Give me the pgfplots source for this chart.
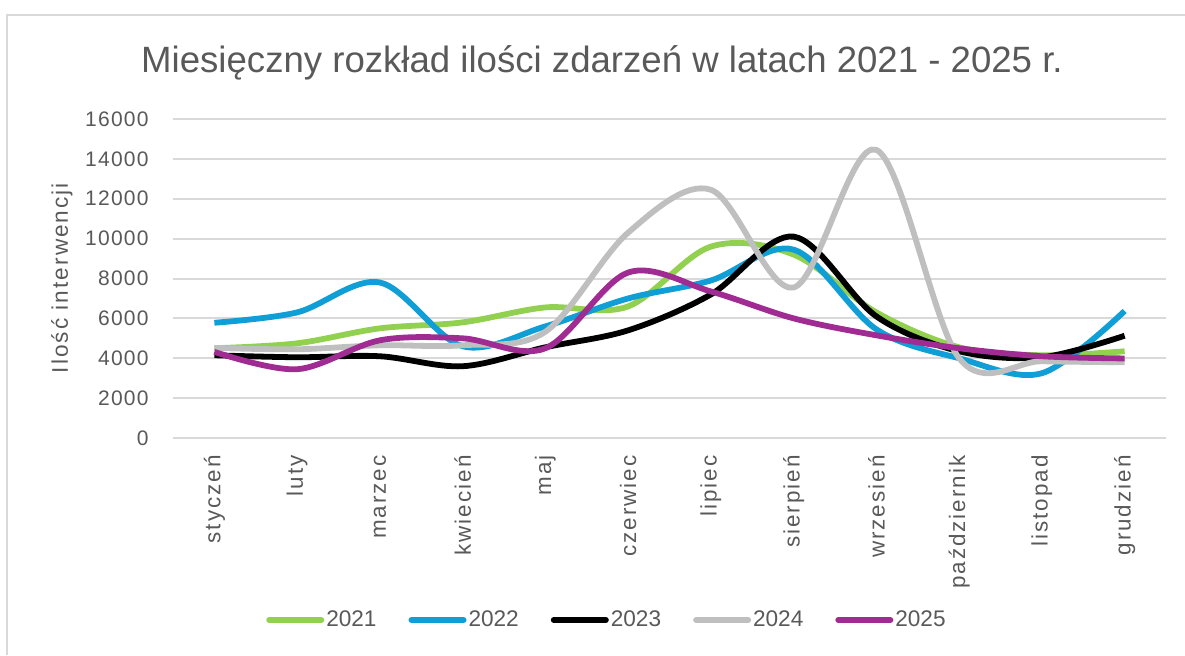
\documentclass[border=0pt]{standalone}
\usepackage{fontspec}
\setmainfont{Liberation Sans}
\newfontfamily\widefont[LetterSpace=6]{Liberation Sans}
\newfontfamily\widerfont[LetterSpace=9]{Liberation Sans}
\usepackage{pgfplots}
\pgfplotsset{compat=1.18}
\definecolor{c21}{HTML}{92D050}
\definecolor{c22}{HTML}{0F9ED5}
\definecolor{c23}{HTML}{000000}
\definecolor{c24}{HTML}{BFBFBF}
\definecolor{c25}{HTML}{A02B93}
\definecolor{txt}{HTML}{595959}
\definecolor{gridc}{HTML}{D9D9D9}
\begin{document}
\begin{tikzpicture}[x=1bp,y=1bp]
\useasboundingbox (0,0) rectangle (592.5,327.5);
\draw[gridc, line width=1bp] (3.5,0) -- (3.5,320) -- (592.5,320);
\node[anchor=base, text=txt, font=\fontsize{18.3bp}{22bp}\selectfont] at (301,291.5) {Miesięczny rozkład ilości zdarzeń w latach 2021 - 2025 r.};
\node[rotate=90, text=txt, font=\widerfont\fontsize{11.3bp}{13bp}\selectfont] at (31,188.5) {Ilość interwencji};
\begin{axis}[
  at={(86.5bp,108.5bp)}, anchor=south west,
  scale only axis, width=496.5bp, height=159.5bp,
  xmin=-0.5, xmax=11.5, ymin=0, ymax=16000,
  scaled y ticks=false,
  axis line style={draw=none},
  major tick style={draw=none},
  ymajorgrids, grid style={gridc, line width=1bp},
  ytick={0,2000,4000,6000,8000,10000,12000,14000,16000},
  yticklabels={0,2000,4000,6000,8000,10000,12000,14000,16000},
  xtick={0,1,2,3,4,5,6,7,8,9,10,11},
  xticklabels={styczeń,luty,marzec,kwiecień,maj,czerwiec,lipiec,sierpień,wrzesień,październik,listopad,grudzień},
  yticklabel style={anchor=east, inner sep=0pt, xshift=-12bp, text=txt, font=\widefont\fontsize{10.5bp}{12bp}\selectfont},
  xticklabel style={yshift=-8.5bp, anchor=east, rotate=90, inner sep=0pt, text=txt, font=\widerfont\fontsize{11.2bp}{13bp}\selectfont},
  clip=false,
  legend columns=5,
  legend style={at={(axis description cs:0.437,-0.5705)}, anchor=center, draw=none, fill=none,
    font=\fontsize{11.3bp}{13bp}\selectfont, text=txt,
    nodes={inner sep=1bp},
    /tikz/every even column/.append style={column sep=15bp}},
  legend image code/.code={\draw[#1, line width=3bp, line cap=round] (1.5bp,0bp) -- (27.5bp,0bp);},
  every axis plot/.append style={line width=2.9bp, smooth, tension=0.55, mark=none},
]
\addplot[c21] coordinates {(0,4500) (1,4750) (2,5500) (3,5800) (4,6550) (5,6600) (6,9600) (7,9200) (8,6300) (9,4550) (10,4150) (11,4350)};
\addplot[c22] coordinates {(0,5780) (1,6300) (2,7800) (3,4600) (4,5600) (5,7000) (6,7900) (7,9450) (8,5450) (9,4000) (10,3250) (11,6370)};
\addplot[c23] coordinates {(0,4150) (1,4050) (2,4100) (3,3600) (4,4550) (5,5400) (6,7200) (7,10100) (8,6100) (9,4350) (10,4050) (11,5130)};
\addplot[c24] coordinates {(0,4520) (1,4450) (2,4650) (3,4650) (4,5330) (5,10300) (6,12450) (7,7550) (8,14450) (9,4000) (10,3850) (11,3800)};
\addplot[c25] coordinates {(0,4320) (1,3450) (2,4900) (3,5000) (4,4500) (5,8300) (6,7350) (7,6000) (8,5150) (9,4500) (10,4100) (11,3990)};
\legend{2021,2022,2023,2024,2025}
\end{axis}
\end{tikzpicture}
\end{document}
